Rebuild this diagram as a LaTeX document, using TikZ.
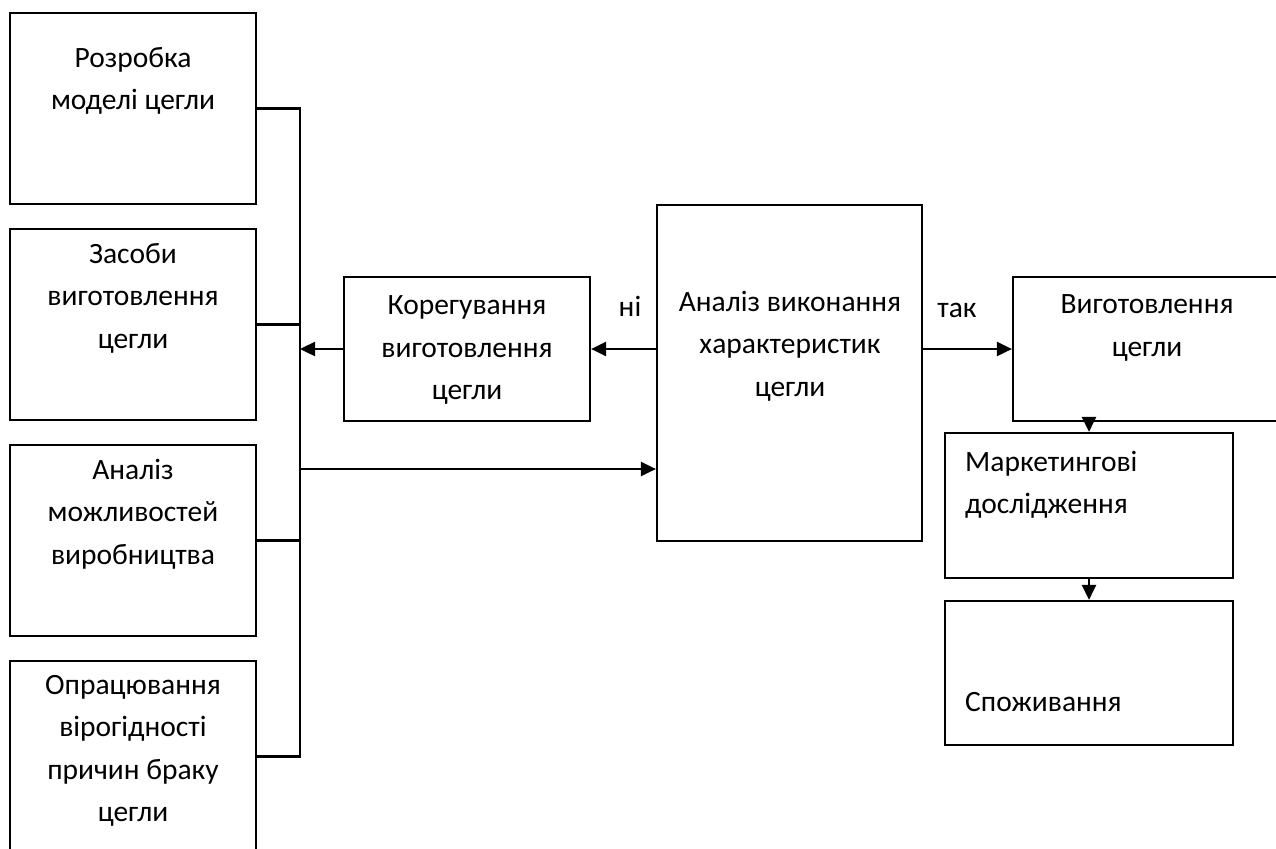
\documentclass[tikz,border=0pt]{standalone}
\usepackage{fontspec}
\setmainfont{Carlito}
\usetikzlibrary{arrows.meta}
\tikzset{
  box/.style={draw, line width=2.2pt, inner sep=0pt, rectangle},
  txt/.style={align=center, inner sep=0pt, font=\fontsize{29.5}{42.5}\selectfont},
  ltxt/.style={align=left, inner sep=0pt, font=\fontsize{29.5}{42.5}\selectfont},
  link/.style={line width=2.4pt, line cap=rect},
  arr/.style={line width=2.4pt, -{Triangle[length=15pt, width=14pt]}},
}
\begin{document}
\begin{tikzpicture}[x=1pt, y=-1pt]
\useasboundingbox (0,0) rectangle (1276,848);
\clip (0,0) rectangle (1276,848);
% left column of inputs
\node[box, minimum width=246pt, minimum height=191pt] (b1) at (133,108.5) {};
\node[box, minimum width=246pt, minimum height=191pt] (b2) at (133,324.5) {};
\node[box, minimum width=246pt, minimum height=191pt] (b3) at (133,540.5) {};
\node[box, minimum width=246pt, minimum height=191pt] (b4) at (133,756.5) {};
\node[txt] (t1) at (133,81) {Розробка\\моделі цегли};
\node[txt] (t2) at (133,298) {Засоби\\виготовлення\\цегли};
\node[txt] (t3) at (133,514) {Аналіз\\можливостей\\виробництва};
\node[txt] (t4) at (133,751) {Опрацювання\\вірогідності\\причин браку\\цегли};
% correction, analysis, production
\node[box, minimum width=246pt, minimum height=144pt] (kor) at (467,349) {};
\node[txt] (tkor) at (467,350) {Корегування\\виготовлення\\цегли};
\node[box, minimum width=265pt, minimum height=336pt] (an) at (789.5,373) {};
\node[txt] (tan) at (790,346) {Аналіз виконання\\характеристик\\цегли};
\node[box, minimum width=268pt, minimum height=144pt] (vyg) at (1147,349) {};
\node[txt] (tvyg) at (1147,328) {Виготовлення\\цегли};
\node[box, minimum width=288pt, minimum height=145pt] (mk) at (1089,505.5) {};
\node[ltxt, anchor=west] (tmk) at (965,485) {Маркетингові\\дослідження};
\node[box, minimum width=288pt, minimum height=144pt] (sp) at (1089,673) {};
\node[ltxt, anchor=west] (tsp) at (965,702) {Споживання};
\node[txt] (no) at (630,306) {ні};
\node[txt] (yes) at (957,310) {так};
% collecting bus
\coordinate (bt) at (300,108.5);
\coordinate (bb) at (300,756.5);
\draw[link] (b1.east) -- (b1.east -| bt) -- (bb) -- (b4.east);
\draw[link] (b2.east) -- (b2.east -| bt);
\draw[link] (b3.east) -- (b3.east -| bt);
% flow arrows
\coordinate (fin) at (300,469);
\draw[arr] (an.west |- kor.east) -- (kor.east);
\draw[arr] (kor.west) -- (kor.west -| bt);
\draw[arr] (fin) -- (fin -| an.west);
\draw[arr] (an.east |- vyg.west) -- (vyg.west);
\draw[arr] (vyg.south -| mk.north) -- (mk.north);
\draw[arr] (mk.south) -- (sp.north);
\end{tikzpicture}
\end{document}
